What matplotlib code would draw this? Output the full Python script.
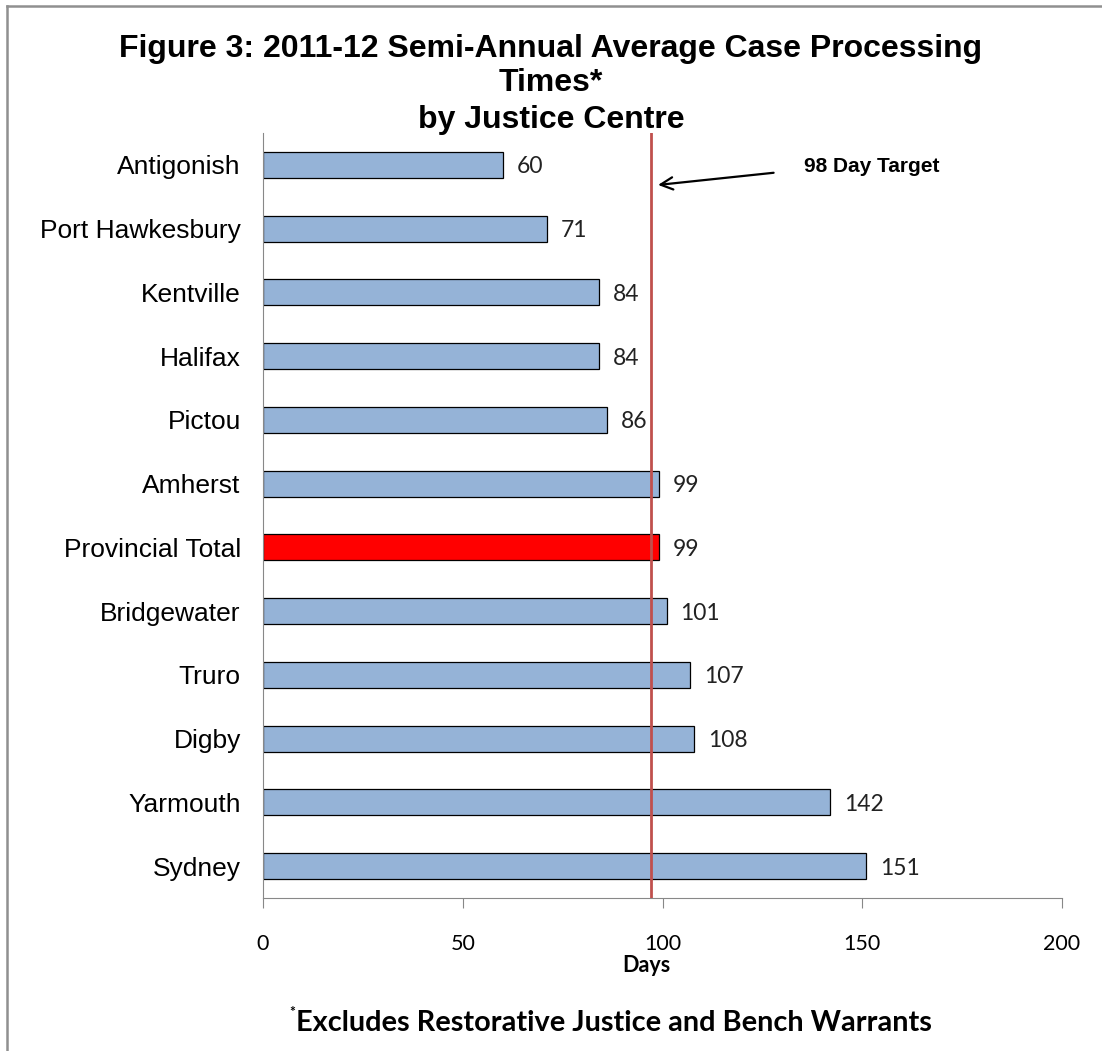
import matplotlib
matplotlib.use('Agg')
import matplotlib.pyplot as plt
from matplotlib.lines import Line2D

centres = ['Antigonish', 'Port Hawkesbury', 'Kentville', 'Halifax', 'Pictou',
           'Amherst', 'Provincial Total', 'Bridgewater', 'Truro', 'Digby',
           'Yarmouth', 'Sydney']
days = [60, 71, 84, 84, 86, 99, 99, 101, 107, 108, 142, 151]
target_line = 97
x_ticks = [0, 50, 100, 150, 200]


def make_plot():
    fig = plt.figure(figsize=(11.02, 10.51), dpi=100)
    ax = fig.add_axes([0.2387, 0.1456, 0.725, 0.7279])

    colors = ['#FF0000' if c == 'Provincial Total' else '#95B3D7' for c in centres]
    ypos = list(range(len(centres)))
    ax.barh(ypos, days, height=0.41, color=colors, edgecolor='black', linewidth=0.9, zorder=2)

    for y, v in zip(ypos, days):
        ax.text(v + 3.5, y, str(v), va='center_baseline', ha='left', fontsize=16.5,
                family='Lato', color='#222222')

    ax.axvline(target_line, color='#C0504D', linewidth=2, zorder=3)

    ax.set_ylim(len(centres) - 0.5, -0.5)
    ax.set_xlim(0, 200)
    ax.set_yticks(ypos)
    ax.set_yticklabels(centres, fontsize=19, family='Liberation Sans')
    ax.tick_params(axis='y', length=0, pad=16)
    ax.set_xticks(x_ticks)
    ax.set_xticklabels([str(t) for t in x_ticks], fontsize=15.5, family='Lato')
    ax.tick_params(axis='x', direction='out', length=7, color='#888888', pad=19)

    for s in ['top', 'right']:
        ax.spines[s].set_visible(False)
    ax.spines['left'].set_color('#888888')
    ax.spines['bottom'].set_color('#888888')

    fig.text(0.587, 0.081, 'Days', ha='center', va='center', fontsize=15.5,
             fontweight='bold', family='Lato')

    fig.text(0.5, 0.953, 'Figure 3: 2011-12 Semi-Annual Average Case Processing',
             ha='center', va='center', fontsize=23, fontweight='bold', family='Liberation Sans')
    fig.text(0.5, 0.921, 'Times*', ha='center', va='center', fontsize=23,
             fontweight='bold', family='Liberation Sans')
    fig.text(0.5, 0.886, 'by Justice Centre', ha='center', va='center', fontsize=23,
             fontweight='bold', family='Liberation Sans')

    ax.annotate('', xy=(98.2, 0.32), xytext=(128.5, 0.12),
                arrowprops=dict(arrowstyle='->', color='black', lw=1.6,
                                mutation_scale=22))
    ax.text(135.5, 0.03, '98 Day Target', fontsize=15, fontweight='bold',
            family='Liberation Sans', va='center', ha='left')

    fig.text(0.263, 0.031, '*', fontsize=10, fontweight='bold', family='Lato', va='bottom')
    fig.text(0.269, 0.014, 'Excludes Restorative Justice and Bench Warrants',
             fontsize=20.8, fontweight='bold', family='Lato', va='bottom')

    # grey frame on the top and left edges only
    fig.add_artist(Line2D([0.0065, 0.0065], [0.0, 0.9943], transform=fig.transFigure,
                          color='#909090', linewidth=1.8))
    fig.add_artist(Line2D([0.0065, 1.0], [0.9943, 0.9943], transform=fig.transFigure,
                          color='#909090', linewidth=1.8))

    fig.savefig('out.png', dpi=100)
    plt.close(fig)


if __name__ == '__main__':
    make_plot()
